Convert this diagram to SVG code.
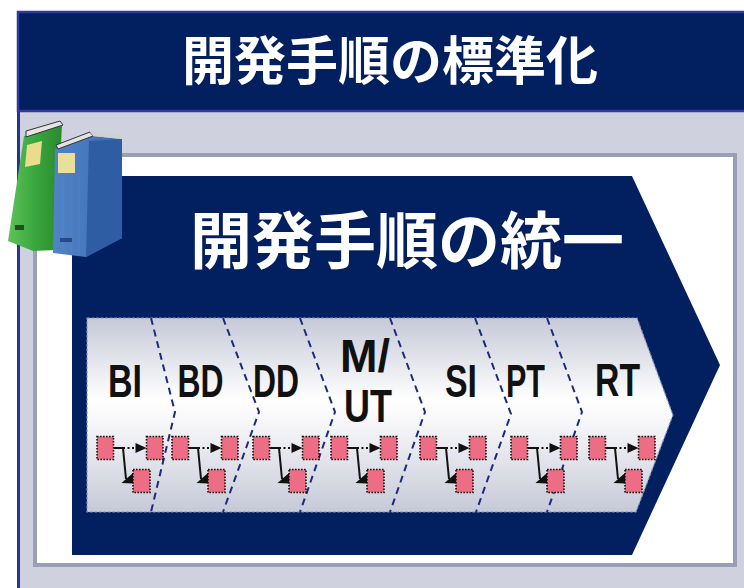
<svg xmlns="http://www.w3.org/2000/svg" width="744" height="588" viewBox="0 0 744 588">
  <defs>
    <style>
      .jp { font-family: "Noto Sans CJK JP", "Noto Sans", sans-serif; font-weight: 700; fill: #ffffff; text-anchor: middle; }
      .lbl { font-family: "Liberation Sans Narrow", "Liberation Sans", Arial, sans-serif; font-weight: 700; font-size: 47px; fill: #111111; text-anchor: middle; }
      .divider { fill: none; stroke: #1b2b7c; stroke-width: 2; stroke-dasharray: 7 5; }
      .box { fill: #ec6d84; stroke: #111111; stroke-width: 1.6; stroke-dasharray: 1.6 1.4; }
      .wire { fill: none; stroke: #111111; stroke-width: 2; }
      .dotwire { fill: none; stroke: #111111; stroke-width: 2; stroke-dasharray: 2 2.5; }
      .head { fill: #111111; }
    </style>
    <linearGradient id="bandFill" x1="0" y1="0" x2="0" y2="1">
      <stop offset="0" stop-color="#c6c9d7"/>
      <stop offset="0.42" stop-color="#ffffff"/>
      <stop offset="0.55" stop-color="#f6f6f9"/>
      <stop offset="1" stop-color="#c6c9d7"/>
    </linearGradient>
    <linearGradient id="greenSpine" x1="0" y1="0" x2="1" y2="0">
      <stop offset="0" stop-color="#5cc35a"/>
      <stop offset="0.5" stop-color="#3aa63d"/>
      <stop offset="1" stop-color="#2a8a2e"/>
    </linearGradient>
    <linearGradient id="blueSpine" x1="0" y1="0" x2="1" y2="0">
      <stop offset="0" stop-color="#5283c6"/>
      <stop offset="1" stop-color="#3a6cb3"/>
    </linearGradient>
    <!-- small three-box flow drawn inside every phase -->
    <g id="miniFlow">
      <path class="wire" d="M16.5 448 H26"/>
      <path class="dotwire" d="M26 448 H40"/>
      <polygon class="head" points="38.5,443 49.5,448 38.5,453"/>
      <path class="wire" d="M26 448 L29 479"/>
      <polygon class="head" points="24.5,483 36,473 36,483.5"/>
      <rect class="box" x="0" y="436.5" width="16.5" height="23"/>
      <rect class="box" x="49.5" y="436.5" width="16.5" height="23"/>
      <rect class="box" x="36" y="469.5" width="17" height="23"/>
    </g>
  </defs>

  <!-- page background -->
  <rect x="0" y="0" width="744" height="588" fill="#ffffff"/>
  <rect x="19" y="111" width="725" height="477" fill="#cfd2de"/>
  <line x1="18.5" y1="111" x2="18.5" y2="588" stroke="#24368c" stroke-width="3"/>

  <!-- header bar -->
  <g id="header">
    <rect x="18" y="12" width="740" height="99" fill="#022060" stroke="#2f3a9a" stroke-width="2.5"/>
    <text class="jp" x="390" y="80" font-size="52">開発手順の標準化</text>
  </g>

  <!-- inner white panel -->
  <rect id="panel" x="35" y="155" width="700" height="410" fill="#ffffff" stroke="#9a9fb7" stroke-width="4"/>

  <!-- big process arrow -->
  <g id="processArrow">
    <polygon points="72,176 632,176 720,365 632,555 72,555" fill="#022060"/>
    <text class="jp" x="407" y="264" font-size="62">開発手順の統一</text>
  </g>

  <!-- binders icon -->
  <g id="binders">
    <polygon points="24,136 62,124 56,250 33,251 8,241" fill="url(#greenSpine)"/>
    <polygon points="26,131 60,121 63,125 26,137" fill="#e4e4e4" stroke="#333" stroke-width="1"/>
    <polygon points="27,145 42,141 40,164 25,167" fill="#e9dc8e"/>
    <rect x="15" y="225" width="9" height="5" fill="#1f4f1f"/>
    <polygon points="55,149 92,136 122,139 122,238 86,257 53,253" fill="url(#blueSpine)"/>
    <polygon points="89,141 122,139 122,238 86,257" fill="#2f5da3"/>
    <g stroke="#6a93cc" stroke-width="0.8" opacity="0.45">
      <line x1="63" y1="178" x2="63" y2="250"/>
      <line x1="71" y1="176" x2="71" y2="252"/>
      <line x1="79" y1="174" x2="79" y2="254"/>
    </g>
    <polygon points="56,145 90,132 93,136 58,149" fill="#e2e2e2" stroke="#333" stroke-width="1"/>
    <polygon points="90,132 119,134 121,139 93,136" fill="#d0d0d0"/>
    <rect x="58" y="153" width="17" height="20" fill="#eadf9a"/>
    <rect x="60" y="238" width="12" height="4" fill="#254a86"/>
  </g>

  <!-- phase band -->
  <polygon id="band" points="87,318 637,318 673,415 636,512 87,512" fill="url(#bandFill)" stroke="#8b90b3" stroke-width="1.2" stroke-dasharray="3 1.5"/>

  <!-- phase separators -->
  <g id="connectors">
    <polyline class="divider" points="151,318 175,412 151,512"/>
    <polyline class="divider" points="223,318 259,412 223,512"/>
    <polyline class="divider" points="300,318 335,412 300,512"/>
    <polyline class="divider" points="390,318 425,412 390,512"/>
    <polyline class="divider" points="475,318 511,414 476,512"/>
    <polyline class="divider" points="547,318 582,412 547,512"/>
  </g>

  <!-- phases -->
  <g id="phase-BI">
    <text class="lbl" x="125" y="397" textLength="34" lengthAdjust="spacingAndGlyphs">BI</text>
    <use href="#miniFlow" transform="translate(97 0)"/>
  </g>
  <g id="phase-BD">
    <text class="lbl" x="200.5" y="397" textLength="46" lengthAdjust="spacingAndGlyphs">BD</text>
    <use href="#miniFlow" transform="translate(172 0)"/>
  </g>
  <g id="phase-DD">
    <text class="lbl" x="276" y="397" textLength="46" lengthAdjust="spacingAndGlyphs">DD</text>
    <use href="#miniFlow" transform="translate(253 0)"/>
  </g>
  <g id="phase-MUT">
    <text class="lbl" x="365" y="372" textLength="50" lengthAdjust="spacingAndGlyphs">M/</text>
    <text class="lbl" x="368" y="422" textLength="48" lengthAdjust="spacingAndGlyphs">UT</text>
    <use href="#miniFlow" transform="translate(331 0)"/>
  </g>
  <g id="phase-SI">
    <text class="lbl" x="461" y="397" textLength="32" lengthAdjust="spacingAndGlyphs">SI</text>
    <use href="#miniFlow" transform="translate(420 0)"/>
  </g>
  <g id="phase-PT">
    <text class="lbl" x="525.5" y="397" textLength="39" lengthAdjust="spacingAndGlyphs">PT</text>
    <use href="#miniFlow" transform="translate(511 0)"/>
  </g>
  <g id="phase-RT">
    <text class="lbl" x="617.5" y="396" textLength="45" lengthAdjust="spacingAndGlyphs">RT</text>
    <use href="#miniFlow" transform="translate(589 0)"/>
  </g>
</svg>
